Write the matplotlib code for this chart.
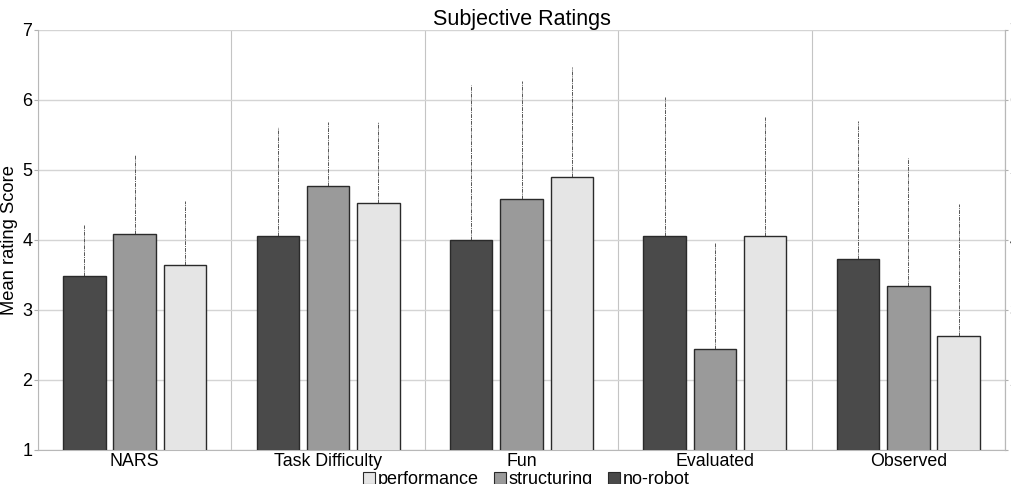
import numpy as np
import matplotlib.pyplot as plt
from matplotlib.patches import Patch

plt.rcParams['font.family'] = ['Liberation Sans', 'DejaVu Sans']

categories = ['NARS', 'Task Difficulty', 'Fun', 'Evaluated', 'Observed']
no_robot = [3.49, 4.06, 4.00, 4.06, 3.73]
no_robot_sd = [0.72, 1.55, 2.21, 1.98, 1.97]
structuring = [4.09, 4.77, 4.59, 2.44, 3.34]
structuring_sd = [1.12, 0.92, 1.68, 1.52, 1.83]
performance = [3.64, 4.53, 4.90, 4.06, 2.63]
performance_sd = [0.92, 1.16, 1.57, 1.70, 1.88]

series = [
    ('no-robot', no_robot, no_robot_sd, '#4a4a4a'),
    ('structuring', structuring, structuring_sd, '#9a9a9a'),
    ('performance', performance, performance_sd, '#e5e5e5'),
]

fig = plt.figure(figsize=(10.12, 4.84), dpi=100)
ax = fig.add_axes([38 / 1012, 1 - 450 / 484, (1005 - 38) / 1012, 420 / 484])

x = np.arange(len(categories))
width = 0.22
offsets = [-0.26, 0.0, 0.26]

for (name, vals, sd, col), off in zip(series, offsets):
    vals = np.array(vals)
    ax.bar(x + off, vals, width, color=col, edgecolor='#2a2a2a', linewidth=1.0, zorder=3)
    ax.vlines(x + off, vals, vals + np.array(sd), colors='#555555',
              linestyles=(0, (4, 1, 1, 1)), linewidth=0.7, zorder=2)

ax.set_xlim(-0.5, len(categories) - 0.5)
ax.set_ylim(1, 7)
ax.set_yticks(range(1, 8))
ax.set_xticks(x)
ax.set_xticklabels(categories, fontsize=12.8)
ax.set_xticks(np.arange(-0.5, len(categories)), minor=True)
ax.tick_params(axis='x', which='both', length=0, pad=2)
ax.tick_params(axis='y', labelsize=13, length=3, color='#b0b0b0', pad=1)
ax.grid(axis='y', color='#d4d4d4', linewidth=1.0, zorder=0)
ax.grid(axis='x', which='minor', color='#c4c4c4', linewidth=0.8, zorder=0)
ax.spines['top'].set_visible(False)
for s in ['left', 'bottom', 'right']:
    ax.spines[s].set_color('#b8b8b8')
ax.set_ylabel('Mean rating Score', fontsize=13.2, labelpad=3)
ax.set_title('Subjective Ratings', fontsize=15.5, pad=3)

ax2 = ax.twinx()
ax2.set_ylim(1, 7)
ax2.set_yticks(range(1, 8))
ax2.tick_params(axis='y', labelsize=13, length=2, color='#b0b0b0', pad=1)
for s in ['top', 'left', 'bottom']:
    ax2.spines[s].set_visible(False)
ax2.spines['right'].set_color('#b8b8b8')

handles = [Patch(facecolor=c, edgecolor='#2a2a2a', linewidth=0.8, label=n)
           for n, _, _, c in reversed(series)]
fig.legend(handles=handles, loc='lower center', bbox_to_anchor=(0.52, -0.035), ncol=3,
           frameon=False, fontsize=13, handlelength=0.7, handleheight=0.7,
           handletextpad=0.15, columnspacing=0.8, borderpad=0.2)

fig.savefig('out.png', dpi=100)
